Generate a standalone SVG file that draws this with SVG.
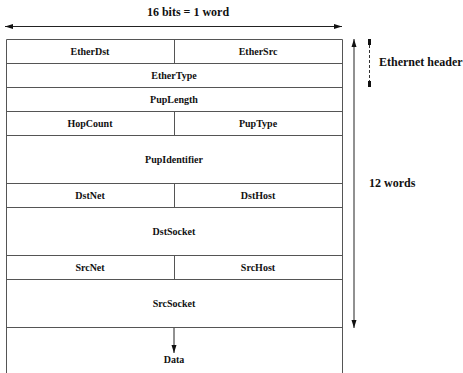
<svg xmlns="http://www.w3.org/2000/svg" width="463" height="373" viewBox="0 0 463 373">
<style>
.box{fill:#fff;stroke:#555;stroke-width:1}
.ln{stroke:#555;stroke-width:1;fill:none}
.ar{stroke:#222;stroke-width:1;fill:none}
text{font-family:"Liberation Serif","Times New Roman",serif;font-weight:bold;fill:#111}
.c{font-size:10px;text-anchor:middle}
.big{font-size:12px}
</style>
<defs>
<marker id="ah" viewBox="0 0 8 6" refX="8" refY="3" markerWidth="8" markerHeight="6" markerUnits="userSpaceOnUse" orient="auto-start-reverse">
<path d="M0,0.5 L8,3 L0,5.5 Z" fill="#111"/>
</marker>
</defs>
<text class="big" x="188" y="16" text-anchor="middle">16 bits = 1 word</text>
<g id="connectors">
<line class="ar" x1="5" y1="26.5" x2="342" y2="26.5" marker-start="url(#ah)" marker-end="url(#ah)"/>
<line class="ar" x1="354" y1="39" x2="354" y2="328" marker-start="url(#ah)" marker-end="url(#ah)"/>
<line class="ar" x1="174" y1="327.5" x2="174" y2="353" marker-end="url(#ah)"/>
<g id="ethernet-bracket">
<line x1="369.5" y1="45" x2="369.5" y2="82" stroke="#333" stroke-width="1" stroke-dasharray="3,2"/>
<rect x="368" y="39" width="3" height="6" fill="#111"/>
<rect x="368" y="81" width="3" height="6" fill="#111"/>
</g>
</g>
<g id="frame">
<path class="ln" d="M6.5,373 V39.5 H342.5 V373"/>
</g>
<g id="EtherDst"><line class="ln" x1="174.5" y1="39.5" x2="174.5" y2="63.5"/><text class="c" x="90" y="55">EtherDst</text></g>
<g id="EtherSrc"><text class="c" x="258" y="55">EtherSrc</text></g>
<g id="EtherType"><line class="ln" x1="6.5" y1="63.5" x2="342.5" y2="63.5"/><text class="c" x="174" y="79">EtherType</text></g>
<g id="PupLength"><line class="ln" x1="6.5" y1="87.5" x2="342.5" y2="87.5"/><text class="c" x="174" y="103">PupLength</text></g>
<g id="HopCount"><line class="ln" x1="6.5" y1="111.5" x2="342.5" y2="111.5"/><line class="ln" x1="174.5" y1="111.5" x2="174.5" y2="135.5"/><text class="c" x="90" y="127">HopCount</text></g>
<g id="PupType"><text class="c" x="258" y="127">PupType</text></g>
<g id="PupIdentifier"><line class="ln" x1="6.5" y1="135.5" x2="342.5" y2="135.5"/><text class="c" x="174" y="163">PupIdentifier</text></g>
<g id="DstNet"><line class="ln" x1="6.5" y1="183.5" x2="342.5" y2="183.5"/><line class="ln" x1="174.5" y1="183.5" x2="174.5" y2="207.5"/><text class="c" x="90" y="199">DstNet</text></g>
<g id="DstHost"><text class="c" x="258" y="199">DstHost</text></g>
<g id="DstSocket"><line class="ln" x1="6.5" y1="207.5" x2="342.5" y2="207.5"/><text class="c" x="174" y="235">DstSocket</text></g>
<g id="SrcNet"><line class="ln" x1="6.5" y1="255.5" x2="342.5" y2="255.5"/><line class="ln" x1="174.5" y1="255.5" x2="174.5" y2="279.5"/><text class="c" x="90" y="271">SrcNet</text></g>
<g id="SrcHost"><text class="c" x="258" y="271">SrcHost</text></g>
<g id="SrcSocket"><line class="ln" x1="6.5" y1="279.5" x2="342.5" y2="279.5"/><text class="c" x="174" y="307">SrcSocket</text></g>
<g id="Data"><line class="ln" x1="6.5" y1="327.5" x2="342.5" y2="327.5"/><text class="c" x="174" y="363">Data</text></g>
<g id="labels">
<text class="big" x="379" y="66">Ethernet header</text>
<text class="big" x="369" y="187">12 words</text>
</g>
</svg>
